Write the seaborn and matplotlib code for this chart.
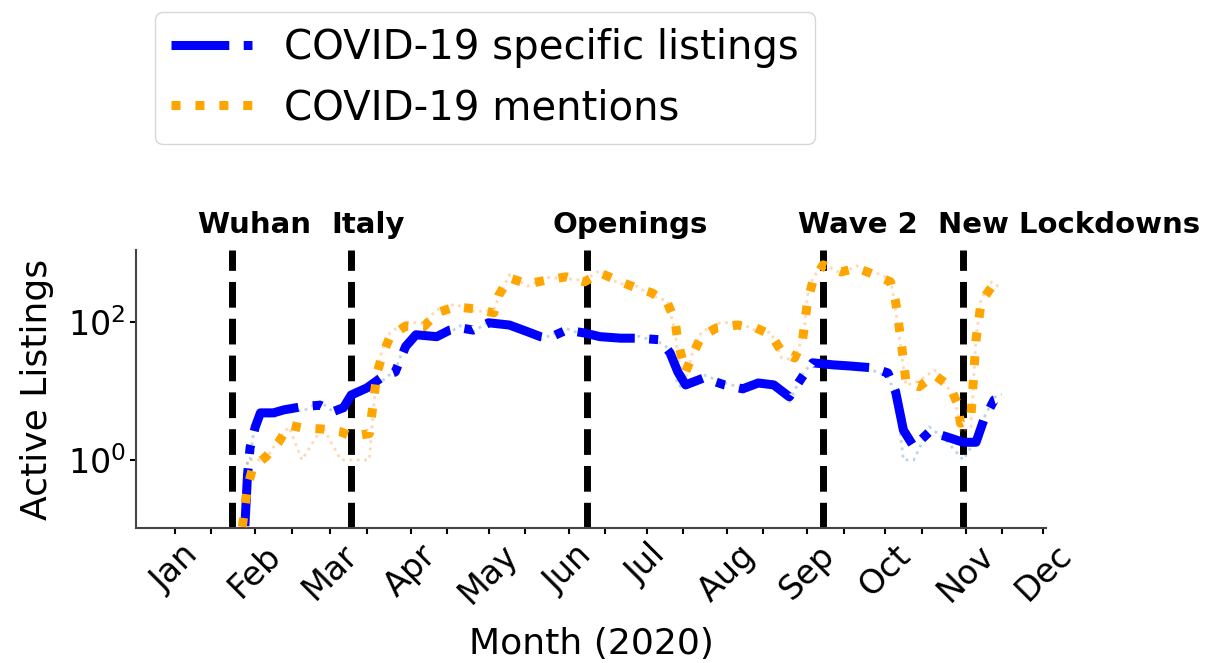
import matplotlib
matplotlib.use('Agg')
import matplotlib.pyplot as plt
import matplotlib.dates as mdates
import matplotlib.transforms as mtransforms
from matplotlib.ticker import FixedLocator, LogFormatterMathtext, NullLocator
import pandas as pd
import seaborn as sns

# COVID-19 specific listings (smoothed + raw daily)
specific_dates = ['2020-01-28', '2020-01-29', '2020-01-30', '2020-02-01', '2020-02-03', '2020-02-08',
                  '2020-02-12', '2020-02-19', '2020-02-26', '2020-03-02', '2020-03-06', '2020-03-09',
                  '2020-03-15', '2020-03-21', '2020-03-26', '2020-03-30', '2020-04-03', '2020-04-11',
                  '2020-04-16', '2020-04-20', '2020-04-25', '2020-05-01', '2020-05-09', '2020-05-16',
                  '2020-05-21', '2020-05-24', '2020-05-31', '2020-06-07', '2020-06-13', '2020-06-21',
                  '2020-06-28', '2020-07-06', '2020-07-10', '2020-07-13', '2020-07-16', '2020-07-23',
                  '2020-07-31', '2020-08-07', '2020-08-13', '2020-08-19', '2020-08-25', '2020-08-30',
                  '2020-09-03', '2020-09-11', '2020-09-17', '2020-09-26', '2020-10-02', '2020-10-05',
                  '2020-10-08', '2020-10-12', '2020-10-18', '2020-10-24', '2020-10-31', '2020-11-05',
                  '2020-11-08', '2020-11-12', '2020-11-15']
specific_smooth = [0.11, 0.6, 1.5, 3.0, 4.8, 4.8, 5.3, 5.9, 6.2, 5.0, 5.7, 8.7, 11, 15.9, 18.8, 44,
                   65, 61, 76, 82, 76, 97, 90, 72, 61, 58, 76, 69, 61, 58, 58, 55, 35.5, 18.8, 12.2,
                   15.4, 12.2, 10.7, 13, 12.2, 8.2, 15.9, 25.5, 23.8, 23, 21.6, 18.2, 9.7, 2.7, 1.55,
                   2.55, 2.2, 1.8, 1.8, 3.8, 7.4, 8]
specific_raw = [0.12, 1, 1, 4, 5, 4, 6, 5, 7, 5, 6, 10, 12, 14, 20, 50, 60, 66, 70, 88,
                72, 100, 85, 68, 55, 62, 80, 64, 66, 52, 62, 50, 40, 12, 11, 17, 13, 11, 14, 11,
                7, 17, 27, 22, 25, 20, 16, 9, 1, 1, 3, 2, 1, 2, 4, 8, 9]

# COVID-19 mentions (smoothed + raw daily)
mention_dates = ['2020-01-27', '2020-01-29', '2020-01-31', '2020-02-05', '2020-02-10', '2020-02-14',
                 '2020-02-19', '2020-02-27', '2020-03-05', '2020-03-09', '2020-03-16', '2020-03-18',
                 '2020-03-19', '2020-03-21', '2020-03-24', '2020-03-30', '2020-04-06', '2020-04-11',
                 '2020-04-18', '2020-04-26', '2020-05-03', '2020-05-05', '2020-05-09', '2020-05-16',
                 '2020-05-24', '2020-05-31', '2020-06-07', '2020-06-13', '2020-06-20', '2020-06-27',
                 '2020-07-03', '2020-07-09', '2020-07-12', '2020-07-13', '2020-07-16', '2020-07-19',
                 '2020-07-22', '2020-07-28', '2020-08-05', '2020-08-12', '2020-08-18', '2020-08-22',
                 '2020-08-27', '2020-08-30', '2020-08-31', '2020-09-01', '2020-09-03', '2020-09-07',
                 '2020-09-14', '2020-09-20', '2020-09-27', '2020-10-03', '2020-10-05', '2020-10-06',
                 '2020-10-08', '2020-10-09', '2020-10-14', '2020-10-20', '2020-10-26', '2020-10-29',
                 '2020-10-30', '2020-11-03', '2020-11-04', '2020-11-05', '2020-11-07', '2020-11-11',
                 '2020-11-15']
mention_smooth = [0.107, 0.4, 0.77, 1.1, 1.8, 3.2, 2.9, 2.8, 2.55, 2.2, 2.4, 9.4, 18.3, 33, 61, 87,
                  85, 135, 165, 154, 135, 246, 433, 355, 407, 450, 380, 513, 393, 310, 263, 188,
                  100, 51, 18.8, 35.5, 61, 82, 90, 82, 65, 37, 30, 51, 100, 195, 380, 670, 530,
                  605, 480, 380, 195, 107, 28, 13.5, 11.5, 17, 11.5, 6.3, 3.4, 4, 14.5, 55, 195,
                  320, 340]
mention_raw = [0.12, 1, 1, 1, 2, 3, 1, 3, 1, 1, 1, 8, 20, 40, 70, 100, 95, 150, 180, 140,
               150, 230, 480, 330, 440, 420, 400, 560, 360, 330, 240, 200, 70, 30, 15, 40, 70, 95,
               100, 75, 70, 30, 28, 60, 90, 240, 420, 700, 500, 650, 520, 420, 150, 80, 22, 12,
               14, 20, 10, 5, 2.5, 3, 12, 60, 220, 380, 300]

event_names = ['Wuhan', 'Italy', 'Openings', 'Wave 2', 'New Lockdowns']
event_dates = ['2020-01-23', '2020-03-09', '2020-06-08', '2020-09-07', '2020-10-31']
label_shift_days = [-13.5, -7.5, -13.5, -9.5, -9.5]

sns.set_theme(style='ticks')
plt.rcParams['font.family'] = ['DejaVu Sans']
plt.rcParams['text.color'] = 'black'
plt.rcParams['axes.labelcolor'] = 'black'
plt.rcParams['xtick.color'] = 'black'
plt.rcParams['ytick.color'] = 'black'

fig = plt.figure(figsize=(12.17, 6.63), dpi=100)
ax = fig.add_axes([136 / 1217, 1 - 528 / 663, 910 / 1217, 278 / 663])

for d in event_dates:
    ax.axvline(pd.Timestamp(d), color='black', linestyle='--', lw=5, zorder=1)

sd = pd.to_datetime(specific_dates)
md = pd.to_datetime(mention_dates)

sns.lineplot(x=sd, y=specific_raw, ax=ax, color='tab:blue', alpha=0.3, lw=2, linestyle=':', zorder=2)
sns.lineplot(x=md, y=mention_raw, ax=ax, color='tab:orange', alpha=0.3, lw=2, linestyle=':', zorder=2)
sns.lineplot(x=sd, y=specific_smooth, ax=ax, color='blue', lw=6.5, linestyle='-.', zorder=3,
             label='COVID-19 specific listings')
sns.lineplot(x=md, y=mention_smooth, ax=ax, color='orange', lw=6.5, linestyle=':', zorder=3,
             label='COVID-19 mentions')

ax.set_yscale('log')
ax.set_ylim(0.103, 1100)
ax.yaxis.set_major_locator(FixedLocator([1, 100]))
ax.yaxis.set_major_formatter(LogFormatterMathtext())
ax.yaxis.set_minor_locator(NullLocator())

ax.set_xlim(pd.Timestamp('2019-12-17'), pd.Timestamp('2020-12-02'))
ax.xaxis.set_major_locator(mdates.MonthLocator())
ax.xaxis.set_major_formatter(mdates.DateFormatter('%b'))
ax.xaxis.set_minor_locator(mdates.MonthLocator(bymonthday=15))
ax.tick_params(axis='x', which='both', length=4, width=1.5)
ax.tick_params(axis='y', length=4, width=1.5)
plt.setp(ax.get_xticklabels(), rotation=45, ha='center', fontsize=24)
plt.setp(ax.get_yticklabels(), fontsize=24)

ax.set_xlabel('Month (2020)', fontsize=26, labelpad=12)
ax.set_ylabel('Active Listings', fontsize=26, labelpad=10)

trans = mtransforms.blended_transform_factory(ax.transData, ax.transAxes)
for name, d, shift in zip(event_names, event_dates, label_shift_days):
    ax.text(pd.Timestamp(d) + pd.Timedelta(days=shift), 1.09, name, transform=trans,
            ha='left', va='center', fontsize=21, fontweight='bold', color='black')

sns.despine(ax=ax)
for s in ['left', 'bottom']:
    ax.spines[s].set_linewidth(1.5)
    ax.spines[s].set_color('#444444')

handles, labels = ax.get_legend_handles_labels()
ax.get_legend().remove()
fig.legend(handles, labels, loc='upper left', bbox_to_anchor=(155 / 1217, 1 - 12 / 663),
           fontsize=29, frameon=True, borderaxespad=0)

fig.savefig('out.png', dpi=100)
